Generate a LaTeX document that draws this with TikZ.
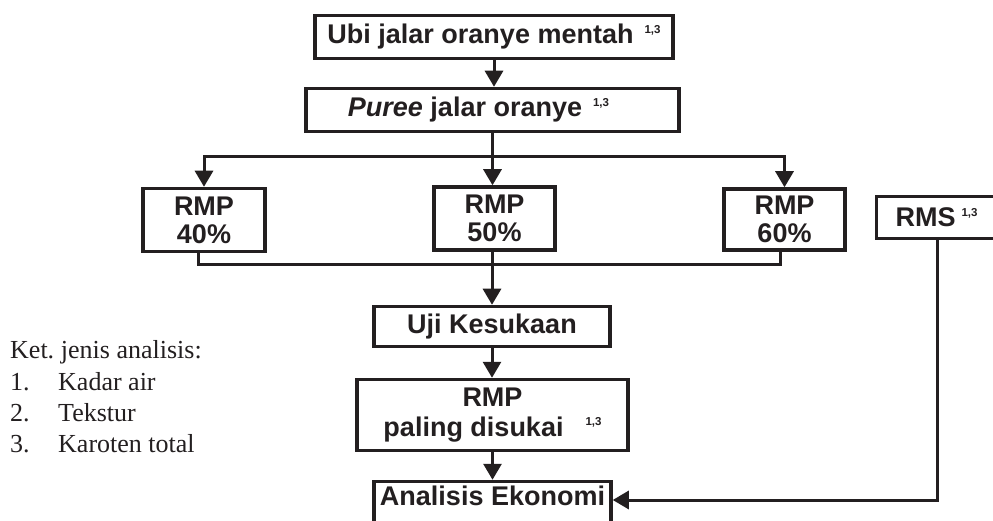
\documentclass[tikz,border=0pt]{standalone}
\usepackage{fontspec}
\setmainfont{Liberation Serif}
\setsansfont{Liberation Sans}
\usetikzlibrary{arrows.meta}
\definecolor{ink}{HTML}{231F20}
\newcommand\supthree{\smash{\raisebox{10.5pt}{\fontsize{11.5}{12}\selectfont 1,3}}}
\tikzset{
  box/.style={draw=ink, line width=3.5pt, inner sep=0pt, text=ink,
    font=\sffamily\bfseries\fontsize{27}{28}\selectfont},
  conn/.style={draw=ink, line width=3pt},
  arr/.style={conn, -{Triangle[width=18pt,length=16pt]}},
  legend/.style={anchor=base west, inner sep=0pt, text=ink,
    font=\rmfamily\fontsize{26}{31}\selectfont}
}
\begin{document}
\begin{tikzpicture}[x=1pt,y=-1pt]
\clip (0,0) rectangle (993,521);
\fill[white] (0,0) rectangle (993,521);
% boxes
\node[box, minimum width=358pt, minimum height=43pt] (b1) at (494,37)
  {Ubi jalar oranye mentah\hspace{11pt}\supthree};
\node[box, minimum width=373pt, minimum height=43pt] (b2) at (492.5,110)
  {\textit{Puree} jalar oranye\hspace{11pt}\supthree\hspace*{28pt}};
\node[box, align=center, minimum width=122pt, minimum height=63pt] (r40) at (204,220)
  {RMP\\40\%};
\node[box, align=center, minimum width=121pt, minimum height=63pt] (r50) at (494.5,218.5)
  {RMP\\50\%};
\node[box, align=center, minimum width=121pt, minimum height=61pt] (r60) at (784.5,219.5)
  {RMP\\60\%};
\node[box, minimum width=127pt, minimum height=42pt] (rms) at (940,217.5)
  {RMS\hspace{6pt}\supthree\hspace*{7pt}};
\node[box, minimum width=236pt, minimum height=40pt] (uji) at (492,326.5)
  {Uji Kesukaan};
\node[box, align=center, minimum width=271pt, minimum height=71pt,
  font=\sffamily\bfseries\fontsize{27}{30}\selectfont] (pal) at (492.5,415)
  {RMP\\paling disukai\hspace{22pt}\supthree};
\node[box, minimum width=237pt, minimum height=57pt] (an) at (492.5,510)
  {\rule[-29pt]{0pt}{0pt}Analisis Ekonomi};
% legend
\node[legend] (l0) at (10,358) {Ket.\hspace{-2pt} jenis analisis:};
\node[legend] (l1) at (10,390) {\makebox[48pt][l]{1.}Kadar air};
\node[legend] (l2) at (10,421) {\makebox[48pt][l]{2.}Tekstur};
\node[legend] (l3) at (10,452) {\makebox[48pt][l]{3.}Karoten total};
% connectors
\coordinate (split) at (492.5,157);
\coordinate (merge) at (492,265);
\draw[arr] (b1.south) -- (b1.south |- b2.north);
\draw[conn] (b2.south) -- (split);
\draw[arr] (split) -| (r40.north);
\draw[arr] (split) -| (r60.north);
\draw[arr] (split) -- (split |- r50.north);
\draw[conn] ([xshift=-6pt]r40.south) |- (merge) -| ([xshift=-4.5pt]r60.south);
\draw[arr] (uji.north |- r50.south) -- (uji.north);
\draw[arr] (uji.south) -- (uji.south |- pal.north);
\draw[arr] (pal.south) -- (pal.south |- an.north);
\draw[arr] ([xshift=-3pt]rms.south) |- ([yshift=10pt]an.east);
\end{tikzpicture}
\end{document}
